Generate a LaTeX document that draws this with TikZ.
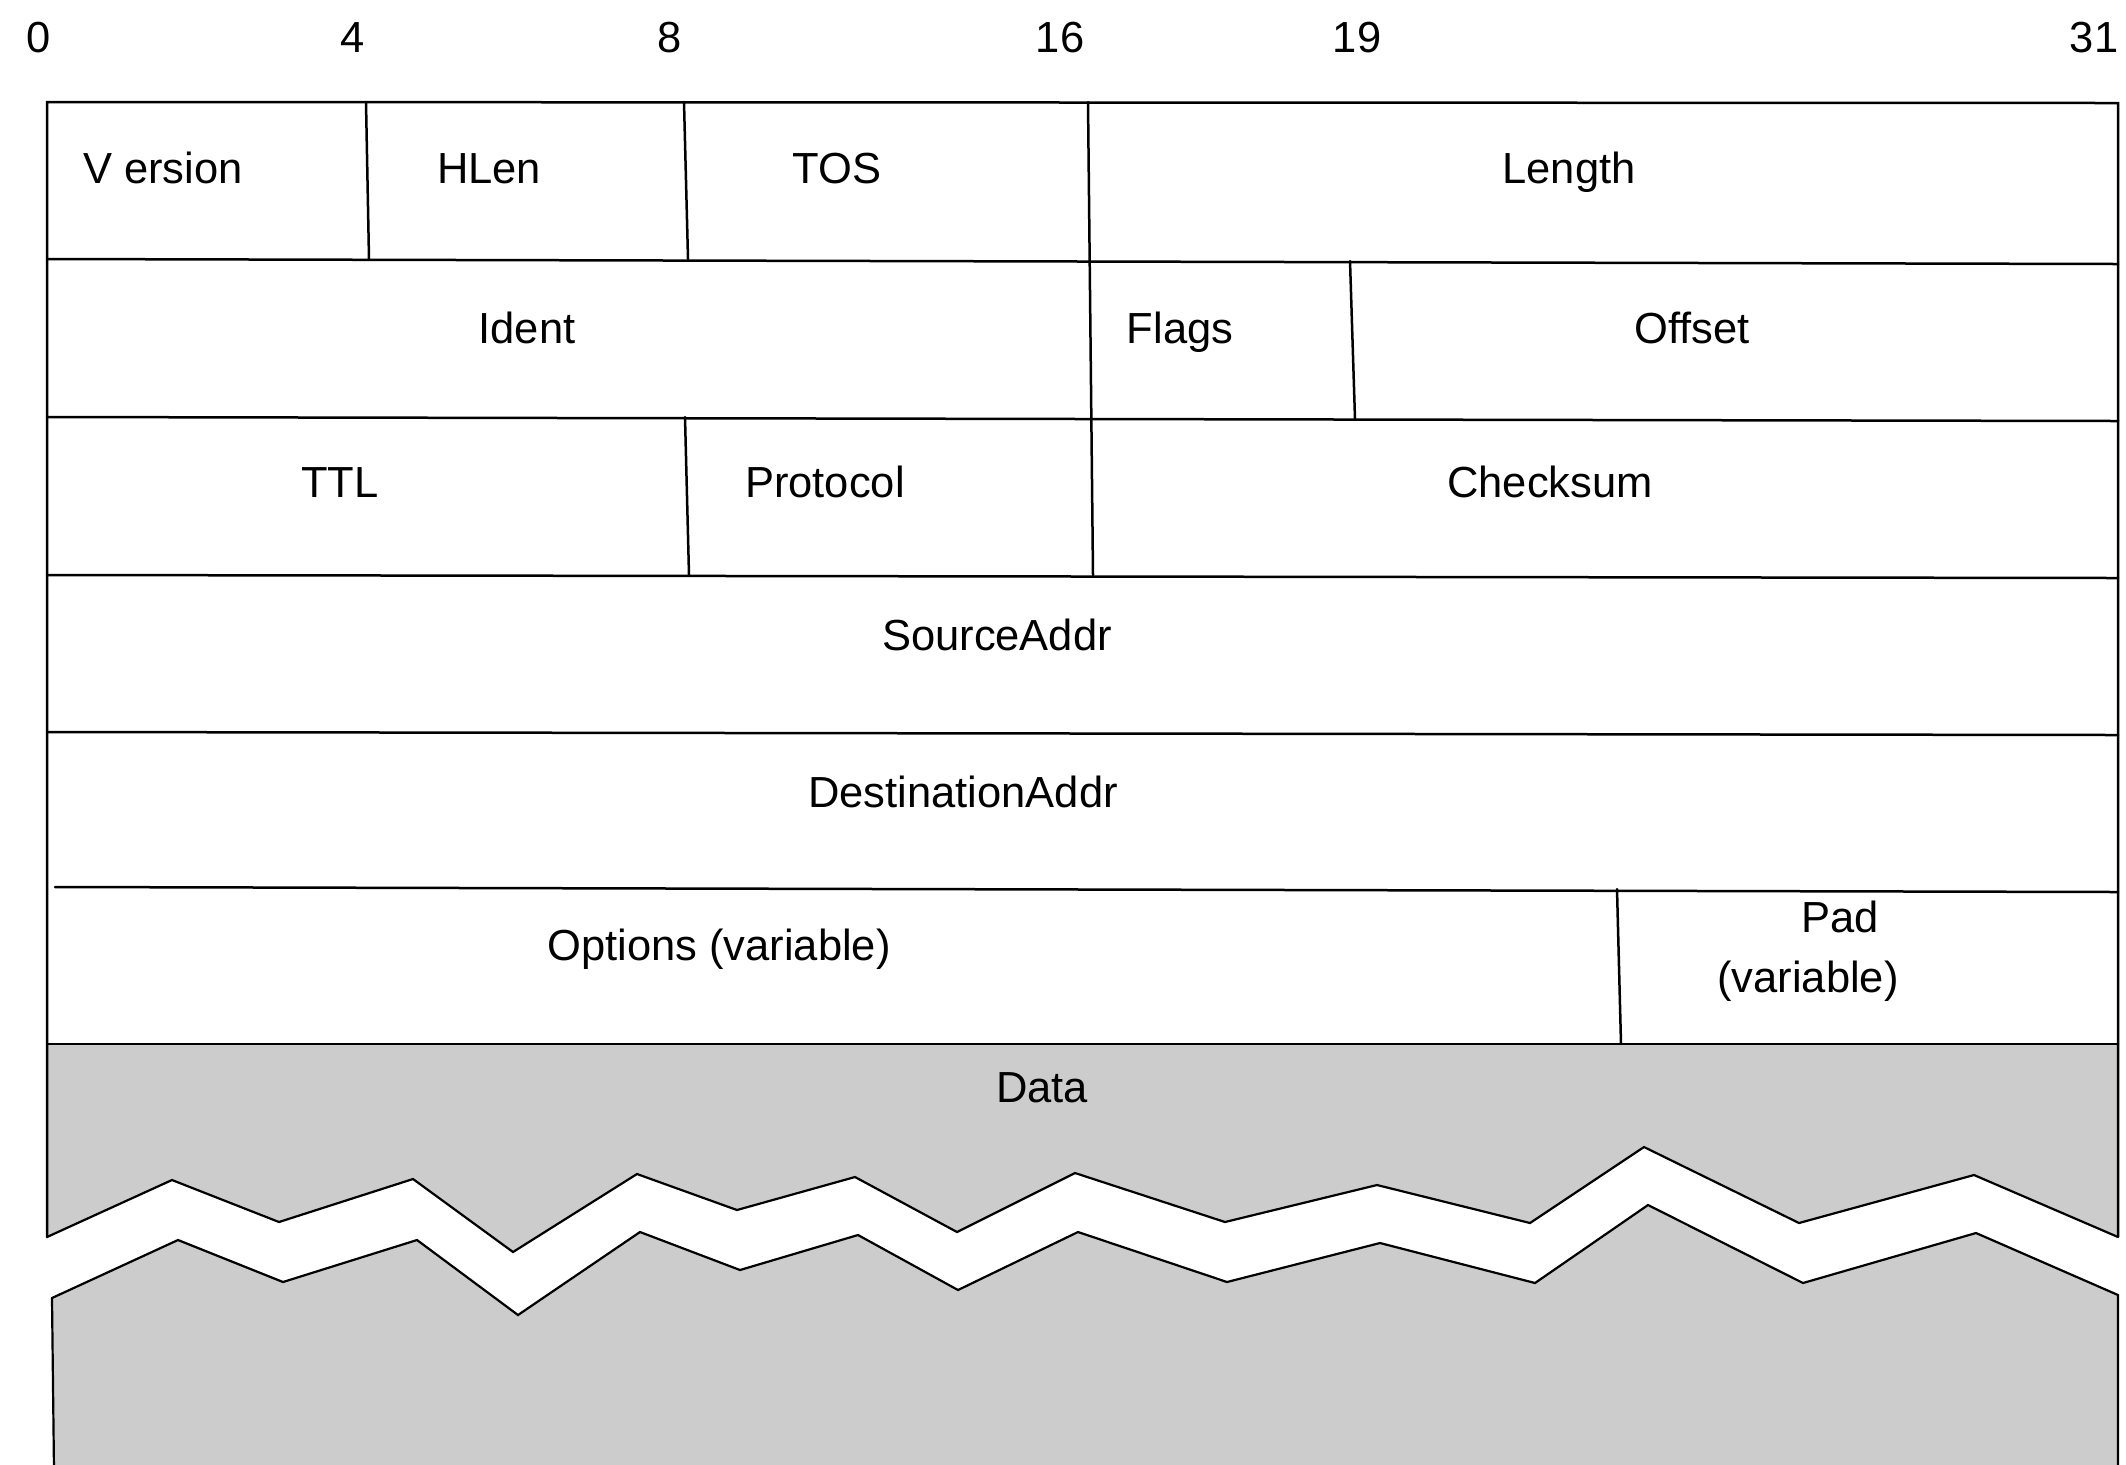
\documentclass[tikz,border=0pt]{standalone}
\usepackage{fontspec}
\setmainfont{Liberation Sans}
\definecolor{datagray}{HTML}{CCCCCC}
\begin{document}
\begin{tikzpicture}[x=0.5pt,y=-0.5pt,
  grid/.style={line width=1.25pt, line cap=round},
  cut/.style={line width=1.1pt, line join=miter},
  lbl/.style={anchor=base, inner sep=0pt, font=\fontsize{21.75pt}{26pt}\selectfont},
]
\useasboundingbox (0,0) rectangle (2126,1464);
\fill[white] (0,0) rectangle (2126,1464);

% ---- data area, split by a torn band ----
\fill[datagray] (47,1044) -- (2118,1044) -- (2118,1237)
  -- (1974,1175) -- (1799,1223) -- (1644,1147) -- (1530,1223) -- (1377,1185)
  -- (1225,1222) -- (1075,1173) -- (957,1232) -- (855,1177) -- (737,1210)
  -- (637,1174) -- (513,1252) -- (413,1179) -- (279,1222) -- (172,1180)
  -- (47,1237) -- cycle;
\fill[datagray] (52,1298) -- (178,1240) -- (283,1282) -- (417,1240) -- (518,1315)
  -- (640,1232) -- (740,1270) -- (858,1235) -- (958,1290) -- (1078,1232)
  -- (1227,1282) -- (1380,1243) -- (1535,1283) -- (1648,1205) -- (1803,1283)
  -- (1976,1233) -- (2118,1295) -- (2118,1470) -- (54,1470) -- cycle;

\draw[cut] (47,1237) -- (172,1180) -- (279,1222) -- (413,1179) -- (513,1252)
  -- (637,1174) -- (737,1210) -- (855,1177) -- (957,1232) -- (1075,1173)
  -- (1225,1222) -- (1377,1185) -- (1530,1223) -- (1644,1147) -- (1799,1223)
  -- (1974,1175) -- (2118,1237);
\draw[cut] (54,1470) -- (52,1298) -- (178,1240) -- (283,1282) -- (417,1240) -- (518,1315)
  -- (640,1232) -- (740,1270) -- (858,1235) -- (958,1290) -- (1078,1232)
  -- (1227,1282) -- (1380,1243) -- (1535,1283) -- (1648,1205) -- (1803,1283)
  -- (1976,1233) -- (2118,1295) -- (2118,1470);

% ---- outer frame ----
\draw[grid] (47,1237) -- (47,102) -- (2118,103) -- (2118,1237);

% ---- row separators ----
\draw[grid] (47,259) -- (2118,264);
\draw[grid] (47,417) -- (2118,421);
\draw[grid] (47,575) -- (2118,578);
\draw[grid] (47,732) -- (2118,735);
\draw[grid] (55,887) -- (2118,892);
\draw[grid] (47,1044) -- (2118,1044);

% ---- field separators ----
\draw[grid] (366,102) -- (369,259);
\draw[grid] (684,102) -- (688,259);
\draw[grid] (1088,102) -- (1093,575);
\draw[grid] (1350,261) -- (1355,419);
\draw[grid] (685,417) -- (689,575);
\draw[grid] (1617,889) -- (1621,1044);

% ---- bit offsets ----
\node[lbl] (b0)  at (39,52)   {0};
\node[lbl] (b4)  at (353,52)  {4};
\node[lbl] (b8)  at (670,52)  {8};
\node[lbl] (b16) at (1060,52) {16};
\node[lbl] (b19) at (1357,52) {19};
\node[lbl] (b31) at (2094,52) {31};

% ---- field names ----
\node[lbl] (version)  at (163,183)  {V ersion};
\node[lbl] (hlen)     at (489,183)  {HLen};
\node[lbl] (tos)      at (837,183)  {TOS};
\node[lbl] (length)   at (1569,183) {Length};
\node[lbl] (ident)    at (527,343)  {Ident};
\node[lbl] (flags)    at (1180,343) {Flags};
\node[lbl] (offset)   at (1692,343) {Offset};
\node[lbl] (ttl)      at (340,497)  {TTL};
\node[lbl] (protocol) at (825,497)  {Protocol};
\node[lbl] (checksum) at (1550,497) {Checksum};
\node[lbl] (src)      at (997,650)  {SourceAddr};
\node[lbl] (dst)      at (963,807)  {DestinationAddr};
\node[lbl] (options)  at (719,960)  {Options (variable)};
\node[lbl] (pad)      at (1840,932) {Pad};
\node[lbl] (padvar)   at (1808,992) {(variable)};
\node[lbl] (data)     at (1042,1102) {Data};
\end{tikzpicture}
\end{document}
